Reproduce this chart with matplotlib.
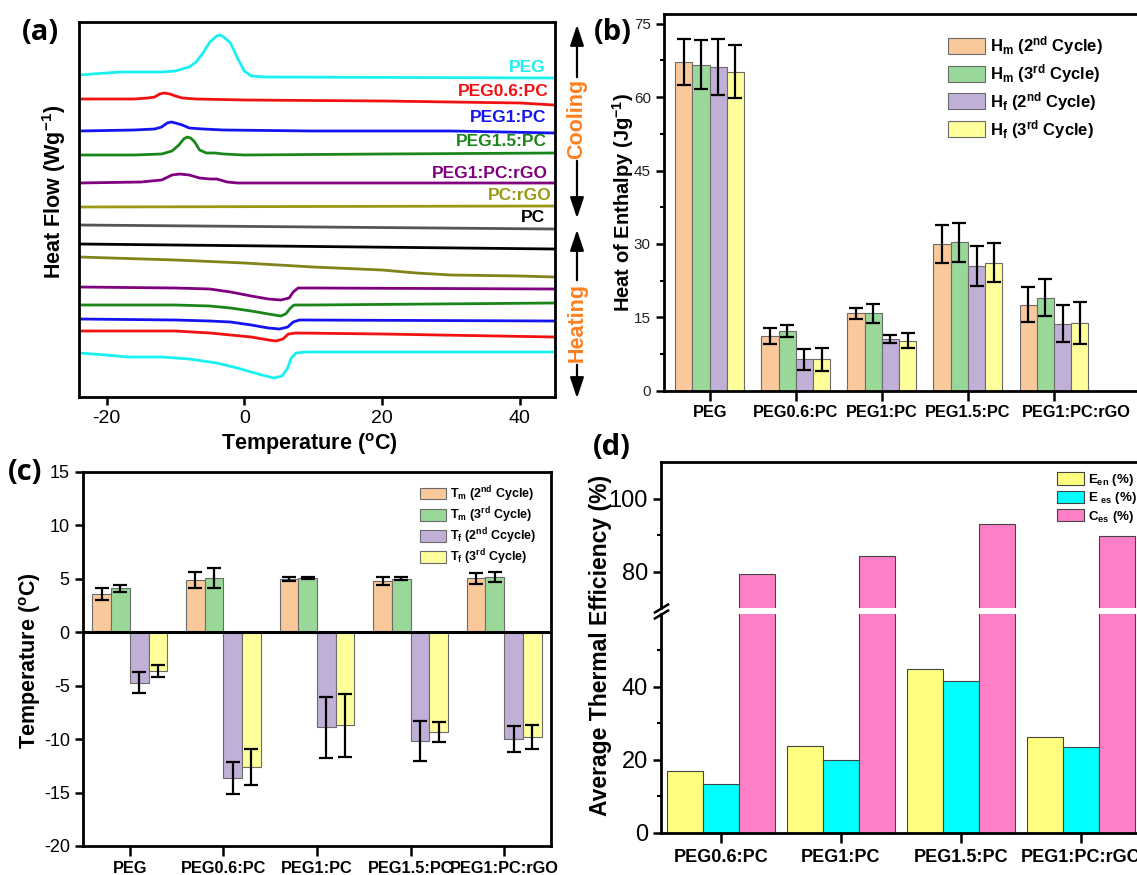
import numpy as np
import matplotlib
matplotlib.use('Agg')
import matplotlib.pyplot as plt
from matplotlib.patches import FancyArrowPatch
from matplotlib.transforms import ScaledTranslation

# ==============================================================================
# Data
# ==============================================================================
# (a) DSC traces: temperature (°C) vs heat flow (a.u., curves stacked with offsets)
T_peg_c = [-24, -18, -12, -10, -9, -8, -7, -6, -5, -4, -3.5, -3, -2, -1, 0, 1, 3, 45]
H_peg_c = [32.2, 32.5, 32.5, 32.6, 32.8, 33.0, 33.5, 34.4, 35.5, 36.1, 36.2, 36.0, 35.4, 33.9, 32.6, 32.1, 32.0, 31.9]
T_p06_c = [-24, -16, -14, -13, -12.3, -11.6, -10.8, -10, -9, -7, 0, 20, 40, 45]
H_p06_c = [29.8, 29.8, 29.9, 30.0, 30.3, 30.4, 30.3, 30.1, 29.9, 29.8, 29.7, 29.6, 29.4, 29.2]
T_p1_c = [-24, -16, -13, -12, -11.2, -10.6, -10, -9, -8, -6, -3, 10, 30, 45]
H_p1_c = [26.6, 26.7, 26.8, 27.0, 27.4, 27.5, 27.4, 27.2, 26.9, 26.8, 26.7, 26.6, 26.6, 26.4]
T_p15_c = [-24, -16, -12, -10.5, -9.5, -8.8, -8.3, -7.8, -7.2, -6.5, -5.5, -4.3, -3, 0, 20, 45]
H_p15_c = [24.2, 24.2, 24.3, 24.6, 25.2, 25.8, 26.0, 25.9, 25.5, 24.7, 24.4, 24.4, 24.3, 24.2, 24.3, 24.4]
T_rgo_c = [-24, -15, -12, -10.5, -9.4, -8, -6.5, -5, -4, -2.5, -1, 45]
H_rgo_c = [21.4, 21.5, 21.7, 22.2, 22.3, 22.2, 21.9, 21.8, 21.8, 21.5, 21.4, 21.4]
T_pcrgo_c = [-24, 45]
H_pcrgo_c = [19.0, 19.1]
T_pc_c = [-24, 45]
H_pc_c = [17.2, 16.8]

T_pc_h = [-24, 45]
H_pc_h = [15.3, 14.8]
T_pcrgo_h = [-24, -10, 0, 10, 20, 25, 30, 40, 45]
H_pcrgo_h = [14.0, 13.7, 13.4, 13.0, 12.7, 12.4, 12.2, 12.1, 12.0]
T_rgo_h = [-24, -10, -5, -2, 1, 3.5, 5.3, 6.5, 7.1, 7.8, 10, 45]
H_rgo_h = [11.0, 10.9, 10.8, 10.5, 10.1, 9.8, 9.7, 9.9, 10.5, 10.9, 10.9, 10.8]
T_p15_h = [-24, -10, -5, -2, 1, 3.5, 5.3, 6, 6.7, 7.2, 10, 45]
H_p15_h = [9.2, 9.2, 9.1, 8.9, 8.6, 8.3, 8.1, 8.3, 8.9, 9.2, 9.2, 9.4]
T_p1_h = [-24, -10, -5, -2, 1, 3.5, 5.1, 6.3, 7.1, 8, 45]
H_p1_h = [7.8, 7.7, 7.6, 7.5, 7.2, 6.9, 6.8, 7.0, 7.5, 7.7, 7.6]
T_p06_h = [-24, -10, -5, -2, 1, 3.5, 4.6, 5.6, 6.4, 7.5, 20, 45]
H_p06_h = [6.6, 6.6, 6.4, 6.2, 6.0, 5.7, 5.6, 5.8, 6.3, 6.4, 6.3, 6.0]
T_peg_h = [-24, -20, -17, -12, -8, -4, -1, 2, 4.3, 5.5, 6.3, 6.8, 7.5, 9, 45]
H_peg_h = [4.4, 4.2, 4.0, 4.0, 3.8, 3.4, 2.9, 2.3, 1.9, 2.1, 2.9, 3.9, 4.4, 4.5, 4.5]

# (b) heat of enthalpy (J/g)
samples_b = ['PEG', 'PEG0.6:PC', 'PEG1:PC', 'PEG1.5:PC', 'PEG1:PC:rGO']
Hm2 = [67.2, 11.2, 15.8, 30.0, 17.6]
Hm2_err = [4.7, 1.6, 1.2, 3.8, 3.5]
Hm3 = [66.6, 12.2, 15.8, 30.3, 19.0]
Hm3_err = [5.0, 1.2, 1.9, 3.9, 3.8]
Hf2 = [66.1, 6.4, 10.6, 25.5, 13.7]
Hf2_err = [5.7, 2.1, 0.8, 4.0, 3.75]
Hf3 = [65.2, 6.4, 10.2, 26.2, 13.9]
Hf3_err = [5.4, 2.4, 1.5, 4.0, 4.3]

# (c) melting / freezing temperatures (°C)
samples_c = ['PEG', 'PEG0.6:PC', 'PEG1:PC', 'PEG1.5:PC', 'PEG1:PC:rGO']
Tm2 = [3.6, 4.9, 5.0, 4.8, 5.05]
Tm2_err = [0.55, 0.75, 0.2, 0.4, 0.5]
Tm3 = [4.1, 5.1, 5.1, 5.0, 5.2]
Tm3_err = [0.35, 0.95, 0.12, 0.15, 0.45]
Tf2 = [-4.7, -13.6, -8.9, -10.15, -10.0]
Tf2_err = [1.0, 1.5, 2.85, 1.85, 1.2]
Tf3 = [-3.6, -12.6, -8.7, -9.3, -9.8]
Tf3_err = [0.55, 1.7, 2.95, 0.95, 1.15]

# (d) thermal efficiencies (%)
samples_d = ['PEG0.6:PC', 'PEG1:PC', 'PEG1.5:PC', 'PEG1:PC:rGO']
E_en = [16.8, 23.7, 45.0, 26.2]
E_es = [13.3, 20.0, 41.7, 23.6]
C_es = [79.4, 84.2, 93.1, 89.9]

# ==============================================================================
# Style
# ==============================================================================
plt.rcParams['font.family'] = ['Liberation Sans', 'DejaVu Sans']
plt.rcParams['mathtext.fontset'] = 'custom'
plt.rcParams['mathtext.rm'] = 'Liberation Sans'
plt.rcParams['mathtext.bf'] = 'Liberation Sans:bold'
plt.rcParams['mathtext.default'] = 'bf'
plt.rcParams['axes.unicode_minus'] = False
plt.rcParams['axes.linewidth'] = 2.0

W, H = 1137, 875
fig = plt.figure(figsize=(W / 100, H / 100), dpi=100)


def box(left, top, right, bottom):
    """axes rectangle from pixel edges (origin top-left)"""
    return [left / W, 1 - bottom / H, (right - left) / W, (bottom - top) / H]


def fxy(px, py):
    return px / W, 1 - py / H


def panel_letter(px, py, s):
    fig.text(*fxy(px, py), s, fontsize=21, fontweight='bold', family=['Open Sans', 'DejaVu Sans'],
             ha='center', va='center')


bar_cols = ['#F9C89B', '#9AD89A', '#C0AFD6', '#FFFF9C']
ekw = dict(ecolor='k', elinewidth=1.6, capsize=5, capthick=1.6)

# ==============================================================================
# (a) DSC curves
# ==============================================================================
ax_a = fig.add_axes(box(79, 22, 555, 397))
curves = [
    (T_peg_c, H_peg_c, '#19F0F0'), (T_p06_c, H_p06_c, '#F21010'), (T_p1_c, H_p1_c, '#1414F0'),
    (T_p15_c, H_p15_c, '#1A861A'), (T_rgo_c, H_rgo_c, '#800080'), (T_pcrgo_c, H_pcrgo_c, '#999914'),
    (T_pc_c, H_pc_c, '#555555'),
    (T_pc_h, H_pc_h, '#000000'), (T_pcrgo_h, H_pcrgo_h, '#82821A'), (T_rgo_h, H_rgo_h, '#800080'),
    (T_p15_h, H_p15_h, '#1A861A'), (T_p1_h, H_p1_h, '#1414F0'), (T_p06_h, H_p06_h, '#F21010'),
    (T_peg_h, H_peg_h, '#19F0F0'),
]
for t, h, c in curves:
    ax_a.plot(t, h, color=c, lw=2.0, solid_joinstyle='round')

curve_labels = [
    ('PEG', 43.8, 33.0, '#19F0F0'), ('PEG0.6:PC', 44.2, 30.6, '#F21010'),
    ('PEG1:PC', 43.8, 28.0, '#1414F0'), ('PEG1.5:PC', 43.9, 25.5, '#1A861A'),
    ('PEG1:PC:rGO', 44.0, 22.3, '#800080'), ('PC:rGO', 44.6, 20.2, '#999914'),
    ('PC', 43.6, 17.9, '#000000'),
]
for s, x, y, c in curve_labels:
    ax_a.text(x, y, s, color=c, fontsize=12.5, fontweight='bold', ha='right', va='center')

ax_a.set_xlim(-24, 45.1)
ax_a.set_ylim(0, 37.5)
ax_a.set_xticks([-20, 0, 20, 40])
ax_a.set_yticks([])
ax_a.tick_params(axis='x', direction='out', length=6, width=1.8, labelsize=14)
ax_a.set_xlabel('Temperature ($^{o}$C)', fontsize=15.5, fontweight='bold', va='center')
ax_a.xaxis.set_label_coords(0.484, -0.126)
ax_a.set_ylabel('Heat Flow (Wg$^{-1}$)', fontsize=15.5, fontweight='bold', va='center')
ax_a.yaxis.set_label_coords(-0.0525, 0.547)
panel_letter(40, 33, '(a)')

# cooling / heating arrows beside panel (a)
akw = dict(transform=fig.transFigure, arrowstyle='-|>,head_length=0.9,head_width=0.3',
           mutation_scale=14, lw=1.6, color='k')
fig.add_artist(FancyArrowPatch(fxy(577, 80), fxy(577, 22), **akw))
fig.add_artist(FancyArrowPatch(fxy(577, 158), fxy(577, 221), **akw))
fig.add_artist(FancyArrowPatch(fxy(577, 283), fxy(577, 227), **akw))
fig.add_artist(FancyArrowPatch(fxy(577, 362), fxy(577, 401), **akw))
fig.text(*fxy(577, 119), 'Cooling', rotation=90, color='#FF7F1E', fontsize=15.5,
         fontweight='bold', ha='center', va='center')
fig.text(*fxy(577, 322), 'Heating', rotation=90, color='#FF7F1E', fontsize=15.5,
         fontweight='bold', ha='center', va='center')

# ==============================================================================
# (b) heat of enthalpy
# ==============================================================================
ax_b = fig.add_axes(box(664, 14, 1141, 390.7))
xb = np.arange(len(samples_b))
series_b = [(Hm2, Hm2_err, 'H$_m$ (2$^{nd}$ Cycle)'), (Hm3, Hm3_err, 'H$_m$ (3$^{rd}$ Cycle)'),
            (Hf2, Hf2_err, 'H$_f$ (2$^{nd}$ Cycle)'), (Hf3, Hf3_err, 'H$_f$ (3$^{rd}$ Cycle)')]
for i, (v, e, lab) in enumerate(series_b):
    ax_b.bar(xb + (i - 1.5) * 0.2, v, 0.2, yerr=e, color=bar_cols[i], edgecolor='#6B6B6B',
             linewidth=0.8, error_kw=ekw, label=lab)
ax_b.set_xlim(-0.53, 5.01)
ax_b.set_ylim(0, 77)
ax_b.set_yticks([0, 15, 30, 45, 60, 75])
ax_b.set_yticks(np.arange(7.5, 77, 15), minor=True)
ax_b.set_xticks(xb)
ax_b.set_xticklabels(samples_b, fontsize=11.8, fontweight='bold')
ax_b.tick_params(axis='y', which='major', direction='out', length=6, width=1.8, labelsize=11,
                 labelcolor='#222222')
ax_b.tick_params(axis='y', which='minor', direction='out', length=3, width=1.5)
ax_b.tick_params(axis='x', direction='out', length=7, width=1.8, pad=3)
# last category label sits a little to the right so it clears its neighbour
last = ax_b.xaxis.get_major_ticks()[-1].label1
last.set_transform(last.get_transform() + ScaledTranslation(0.22, 0, fig.dpi_scale_trans))
ax_b.spines['right'].set_visible(False)
ax_b.set_ylabel('Heat of Enthalpy (Jg$^{-1}$)', fontsize=14.5, fontweight='bold', va='center')
ax_b.yaxis.set_label_coords(-0.086, 0.501)
ax_b.legend(loc='upper left', bbox_to_anchor=fxy(948, 34), bbox_transform=fig.transFigure,
            frameon=False, prop={'weight': 'bold', 'size': 12}, handlelength=2.2,
            handleheight=1.1, labelspacing=0.3, handletextpad=0.35, borderpad=0, borderaxespad=0)
panel_letter(613, 33, '(b)')

# ==============================================================================
# (c) phase change temperatures
# ==============================================================================
ax_c = fig.add_axes(box(83, 472, 551, 846))
xc = np.arange(len(samples_c))
series_c = [(Tm2, Tm2_err, 'T$_m$ (2$^{nd}$ Cycle)'), (Tm3, Tm3_err, 'T$_m$ (3$^{rd}$ Cycle)'),
            (Tf2, Tf2_err, 'T$_f$ (2$^{nd}$ Ccycle)'), (Tf3, Tf3_err, 'T$_f$ (3$^{rd}$ Cycle)')]
for i, (v, e, lab) in enumerate(series_c):
    ax_c.bar(xc + (i - 1.5) * 0.2, v, 0.2, yerr=e, color=bar_cols[i], edgecolor='#6B6B6B',
             linewidth=0.8, error_kw=ekw, label=lab)
ax_c.axhline(0, color='k', lw=2.2)
ax_c.set_xlim(-0.5, 4.5)
ax_c.set_ylim(-20, 15)
ax_c.set_yticks([-20, -15, -10, -5, 0, 5, 10, 15])
ax_c.set_xticks(xc)
ax_c.set_xticklabels(samples_c, fontsize=11.8, fontweight='bold')
ax_c.tick_params(axis='y', direction='out', length=6, width=1.8, labelsize=13)
ax_c.tick_params(axis='x', direction='out', length=7, width=1.8, pad=4)
ax_c.set_ylabel('Temperature ($^{o}$C)', fontsize=15.5, fontweight='bold', va='center')
ax_c.yaxis.set_label_coords(-0.113, 0.495)
ax_c.legend(loc='upper left', bbox_to_anchor=fxy(420, 484), bbox_transform=fig.transFigure,
            frameon=False, prop={'weight': 'bold', 'size': 9}, handlelength=2.1,
            handleheight=1.05, labelspacing=0.12, handletextpad=0.3, borderpad=0, borderaxespad=0)
panel_letter(25, 472, '(c)')

# ==============================================================================
# (d) thermal efficiency, broken y axis
# ==============================================================================
ax_lo = fig.add_axes(box(661, 614, 1141, 832.7))
ax_hi = fig.add_axes(box(661, 462.3, 1141, 608))
xd = np.arange(len(samples_d))
series_d = [(E_en, '#FFFF7F', 'E$_{en}$ (%)'), (E_es, '#00FFFF', 'E $_{es}$ (%)'),
            (C_es, '#FF7FC6', 'C$_{es}$ (%)')]
for ax in (ax_lo, ax_hi):
    for i, (v, c, lab) in enumerate(series_d):
        ax.bar(xd + (i - 1) * 0.3, v, 0.3, color=c, edgecolor='#444444', linewidth=0.8, label=lab)
    ax.set_xlim(-0.5, 3.5)
    ax.spines['right'].set_visible(False)
    ax.tick_params(axis='y', which='major', direction='out', length=6, width=1.8, labelsize=17)
    ax.tick_params(axis='y', which='minor', direction='out', length=3, width=1.5)

ax_lo.set_ylim(0, 60)
ax_lo.set_yticks([0, 20, 40])
ax_lo.set_yticks([10, 30, 50], minor=True)
ax_lo.spines['top'].set_visible(False)
ax_lo.set_xticks(xd)
ax_lo.set_xticklabels(samples_d, fontsize=13, fontweight='bold')
ax_lo.tick_params(axis='x', direction='out', length=7, width=1.8, pad=5)

ax_hi.set_ylim(70, 110)
ax_hi.set_yticks([80, 100])
ax_hi.set_yticks([90], minor=True)
ax_hi.spines['bottom'].set_visible(False)
ax_hi.set_xticks([])

# break marks on the y axis
bkw = dict(marker=[(-1, -0.6), (1, 0.6)], markersize=11, linestyle='none', color='k',
           mec='k', mew=1.8, clip_on=False)
ax_lo.plot([0], [1], transform=ax_lo.transAxes, **bkw)
ax_hi.plot([0], [0], transform=ax_hi.transAxes, **bkw)

ax_lo.set_ylabel('Average Thermal Efficiency (%)', fontsize=16.5, fontweight='bold', va='center')
ax_lo.yaxis.set_label_coords(-0.126, 0.858)
ax_hi.legend(loc='upper left', bbox_to_anchor=fxy(1057, 472), bbox_transform=fig.transFigure,
             frameon=False, prop={'weight': 'bold', 'size': 9.5}, handlelength=2.05,
             handleheight=1.05, labelspacing=0.18, handletextpad=0.3, borderpad=0, borderaxespad=0)
panel_letter(612, 447, '(d)')

fig.savefig('out.png', dpi=100)
